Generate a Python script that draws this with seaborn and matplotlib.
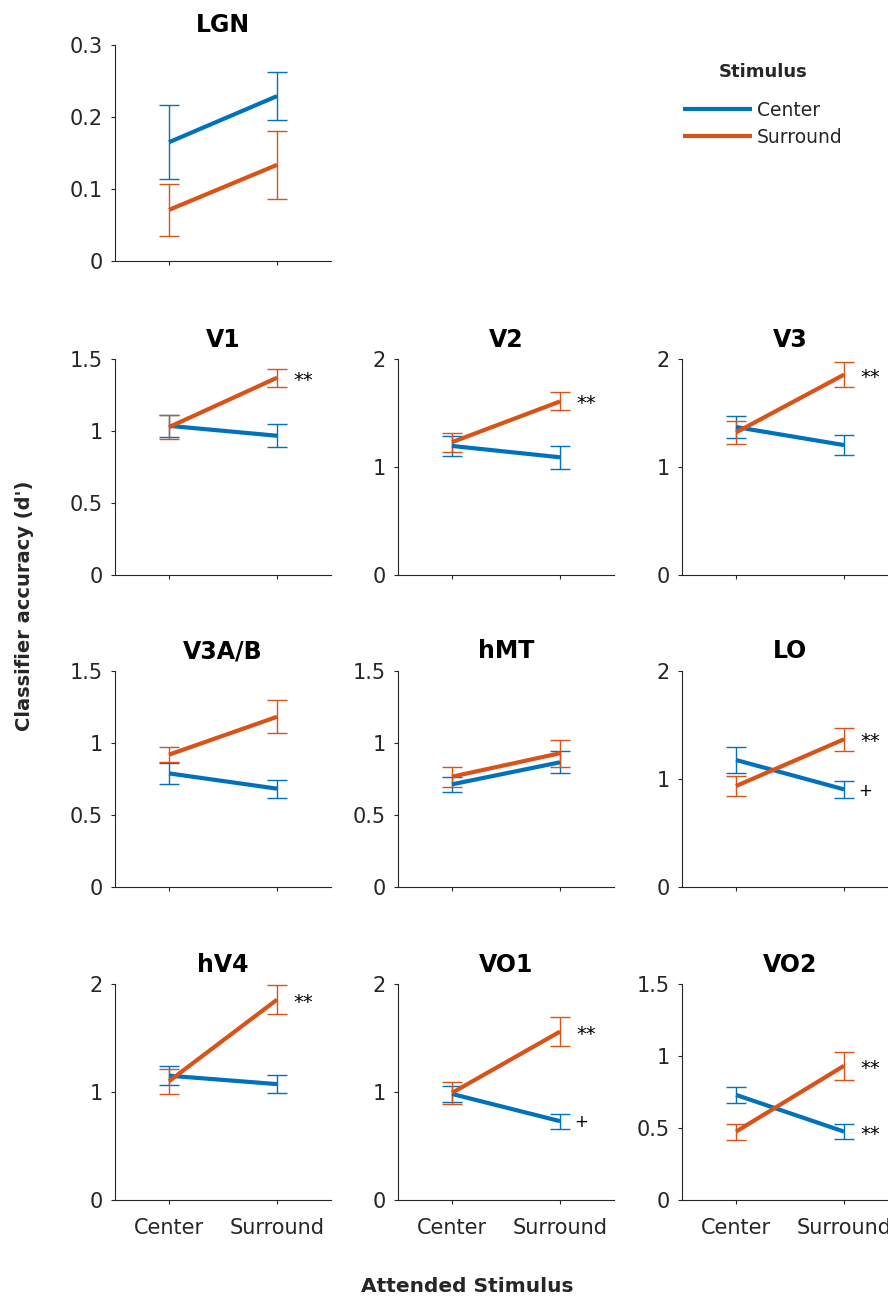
import numpy as np
import pandas as pd
import matplotlib
matplotlib.use("Agg")
import matplotlib.pyplot as plt
import seaborn as sns
from matplotlib.ticker import FuncFormatter

# ---------------- data ----------------
regions = ['LGN', 'V1', 'V2', 'V3', 'V3A/B', 'hMT', 'LO', 'hV4', 'VO1', 'VO2']
attended = ['Center', 'Surround']
stimuli = ['Center', 'Surround']

center_mean_attC = [0.165, 1.036, 1.195, 1.370, 0.789, 0.713, 1.176, 1.151, 0.982, 0.730]
center_mean_attS = [0.229, 0.967, 1.090, 1.203, 0.683, 0.866, 0.904, 1.073, 0.730, 0.475]
surround_mean_attC = [0.071, 1.027, 1.230, 1.320, 0.919, 0.766, 0.935, 1.100, 0.992, 0.475]
surround_mean_attS = [0.1335, 1.370, 1.607, 1.855, 1.182, 0.929, 1.368, 1.855, 1.559, 0.932]

center_err_attC = [0.0515, 0.075, 0.094, 0.100, 0.074, 0.052, 0.118, 0.086, 0.075, 0.054]
center_err_attS = [0.033, 0.080, 0.104, 0.090, 0.062, 0.076, 0.082, 0.085, 0.068, 0.050]
surround_err_attC = [0.0364, 0.081, 0.087, 0.105, 0.051, 0.070, 0.093, 0.115, 0.100, 0.055]
surround_err_attS = [0.047, 0.063, 0.083, 0.113, 0.114, 0.094, 0.108, 0.136, 0.133, 0.097]

center_sig = ['', '', '', '', '', '', '+', '', '+', '**']
surround_sig = ['', '**', '**', '**', '', '', '**', '**', '**', '**']

y_max = [0.3, 1.5, 2, 2, 1.5, 1.5, 2, 2, 2, 1.5]
y_step = [0.1, 0.5, 1, 1, 0.5, 0.5, 1, 1, 1, 0.5]

# ---------------- style ----------------
sns.set_theme(style="ticks")
plt.rcParams['font.family'] = ['DejaVu Sans']
palette = {'Center': '#0072BD', 'Surround': '#D95319'}
axis_color = '#262626'

fig = plt.figure(figsize=(8.88, 12.96), dpi=100)

W, H = 888.0, 1296.0
col_left = [115, 398, 682]
row_bottom = [261, 575, 887, 1200]
ax_w, ax_h = 216, 216
grid_pos = [(0, 0), (1, 0), (1, 1), (1, 2), (2, 0), (2, 1), (2, 2), (3, 0), (3, 1), (3, 2)]

legend_handles = None
for i, reg in enumerate(regions):
    r, c = grid_pos[i]
    ax = fig.add_axes([col_left[c] / W, 1 - row_bottom[r] / H, ax_w / W, ax_h / H])

    df = pd.DataFrame({
        'attended': attended * 2,
        'stimulus': ['Center', 'Center', 'Surround', 'Surround'],
        'value': [center_mean_attC[i], center_mean_attS[i],
                  surround_mean_attC[i], surround_mean_attS[i]],
        'err': [center_err_attC[i], center_err_attS[i],
                surround_err_attC[i], surround_err_attS[i]],
    })

    sns.lineplot(data=df, x='attended', y='value', hue='stimulus',
                 hue_order=stimuli, palette=palette, linewidth=3,
                 legend=False, ax=ax, zorder=3, sort=False,
                 solid_capstyle='butt')
    if legend_handles is None:
        legend_handles = list(ax.get_lines()[:2])

    for stim in stimuli:
        sub = df[df['stimulus'] == stim]
        ax.errorbar(sub['attended'], sub['value'], yerr=sub['err'], fmt='none',
                    ecolor=palette[stim], elinewidth=1, capsize=7.5, capthick=1,
                    zorder=2)

    # significance markers at the Surround-attended point
    for sig, val in [(center_sig[i], center_mean_attS[i]),
                     (surround_sig[i], surround_mean_attS[i])]:
        if sig == '**':
            ax.annotate(sig, xy=(1, val), xytext=(12, -5.8), textcoords='offset points',
                        ha='left', va='baseline', fontsize=14, color='black')
        elif sig:
            ax.annotate(sig, xy=(1, val), xytext=(10, -4.5), textcoords='offset points',
                        ha='left', va='baseline', fontsize=12, color='black')

    ax.set_xlim(-0.5, 1.5)
    ax.set_ylim(0, y_max[i])
    ax.set_yticks(np.arange(0, y_max[i] + y_step[i] / 2, y_step[i]))
    ax.yaxis.set_major_formatter(FuncFormatter(lambda v, p: f'{v:g}'))
    ax.set_title(reg, fontsize=17, fontweight='bold', color='black', pad=9)
    ax.set_xlabel('')
    ax.set_ylabel('')
    sns.despine(ax=ax)
    for sp in ['left', 'bottom']:
        ax.spines[sp].set_color(axis_color)
        ax.spines[sp].set_linewidth(0.8)
    ax.tick_params(axis='both', direction='out', length=3, width=0.8,
                   color=axis_color, labelcolor=axis_color, labelsize=15)
    ax.tick_params(axis='y', pad=5.5)
    ax.tick_params(axis='x', pad=10)
    if r != 3:
        ax.tick_params(axis='x', labelbottom=False)

# legend
leg = fig.legend(legend_handles, stimuli, title='Stimulus', loc='center',
                 bbox_to_anchor=(763 / W, 1 - 105 / H), frameon=False,
                 fontsize=13.5, title_fontproperties={'weight': 'bold', 'size': 13},
                 handlelength=3.7, handletextpad=0.25, labelspacing=0.42)
leg._legend_box.sep = 14

fig.text(25 / W, 1 - 606 / H, "Classifier accuracy (d')", rotation=90,
         ha='center', va='center', fontsize=14, fontweight='bold', color=axis_color)
fig.text(467 / W, 1 - 1286 / H, 'Attended Stimulus', ha='center', va='center',
         fontsize=14.5, fontweight='bold', color=axis_color)

fig.savefig('out.png', dpi=100)
